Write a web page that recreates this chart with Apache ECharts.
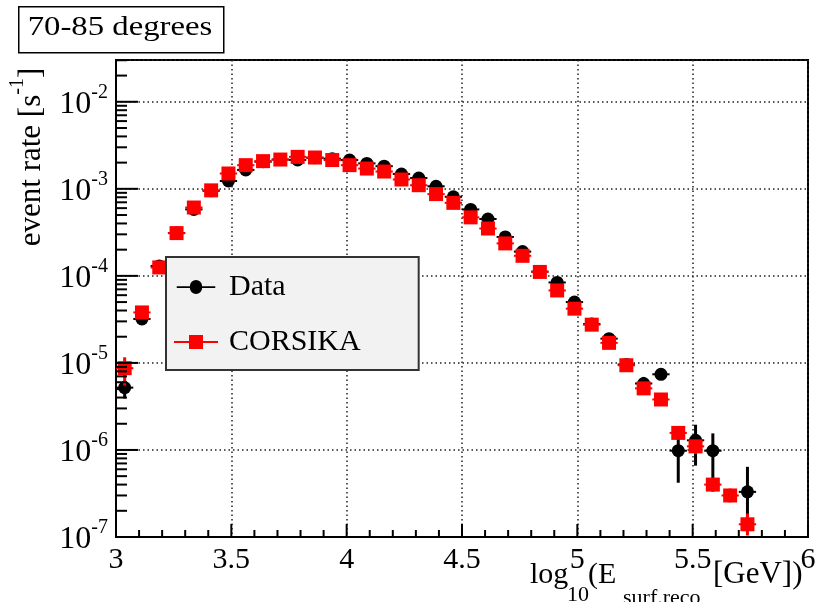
<!DOCTYPE html>
<html>
<head>
<meta charset="utf-8">
<title>70-85 degrees</title>
<script src="https://cdn.jsdelivr.net/npm/echarts@6/dist/echarts.min.js"></script>
<style>
  html, body { margin: 0; padding: 0; background: #fff; }
  #chart { width: 829px; height: 602px; }
</style>
</head>
<body>
<div id="chart"></div>
<script>
// bin centres, log10(E_surf.reco / GeV), bin width 0.075
var binCenters = [
  3.0375, 3.1125, 3.1875, 3.2625, 3.3375, 3.4125, 3.4875, 3.5625, 3.6375, 3.7125,
  3.7875, 3.8625, 3.9375, 4.0125, 4.0875, 4.1625, 4.2375, 4.3125, 4.3875, 4.4625,
  4.5375, 4.6125, 4.6875, 4.7625, 4.8375, 4.9125, 4.9875, 5.0625, 5.1375, 5.2125,
  5.2875, 5.3625, 5.4375, 5.5125, 5.5875, 5.6625, 5.7375
];
var binHalfWidth = 0.0375;

// event rate [1/s]
var dataRate = [
  5.2e-6, 3.2e-5, 1.3e-4, 3.1e-4, 5.8e-4, 9.5e-4, 1.23e-3, 1.65e-3, 2.05e-3, 2.17e-3,
  2.15e-3, 2.27e-3, 2.22e-3, 2.14e-3, 1.96e-3, 1.82e-3, 1.48e-3, 1.33e-3, 1.07e-3, 8.1e-4,
  5.8e-4, 4.5e-4, 2.8e-4, 1.9e-4, 1.12e-4, 8.4e-5, 5.0e-5, 2.8e-5, 1.9e-5, 9.6e-6,
  5.8e-6, 7.4e-6, 9.8e-7, 1.29e-6, 9.8e-7, null, 3.3e-7
];
var dataErrLow = [
  3.9e-6, 2.8e-5, null, null, null, null, null, null, null, null,
  null, null, null, null, null, null, null, null, null, null,
  null, null, null, null, null, null, null, null, 1.7e-5, 8.6e-6,
  4.8e-6, 6.6e-6, 4.2e-7, 6.6e-7, 4.2e-7, null, 1.2e-7
];
var dataErrHigh = [
  6.1e-6, 3.6e-5, null, null, null, null, null, null, null, null,
  null, null, null, null, null, null, null, null, null, null,
  null, null, null, null, null, null, null, null, 2.1e-5, 1.07e-5,
  6.9e-6, 8.3e-6, 1.6e-6, 1.95e-6, 1.55e-6, null, 6.4e-7
];

var corsikaRate = [
  8.7e-6, 3.8e-5, 1.25e-4, 3.1e-4, 6.1e-4, 9.6e-4, 1.5e-3, 1.87e-3, 2.08e-3, 2.17e-3,
  2.33e-3, 2.29e-3, 2.14e-3, 1.87e-3, 1.71e-3, 1.58e-3, 1.28e-3, 1.1e-3, 8.7e-4, 6.9e-4,
  4.7e-4, 3.5e-4, 2.36e-4, 1.7e-4, 1.11e-4, 6.8e-5, 4.2e-5, 2.75e-5, 1.7e-5, 9.4e-6,
  5.1e-6, 3.8e-6, 1.57e-6, 1.1e-6, 4.0e-7, 3.0e-7, 1.4e-7
];
var corsikaErrLow = [
  5.5e-6, 3.3e-5, null, null, null, null, null, null, null, null,
  null, null, null, null, null, null, null, null, null, null,
  null, null, null, null, null, null, null, null, null, null,
  null, null, 1.35e-6, 9e-7, 3.3e-7, 2.5e-7, 1.04e-7
];
var corsikaErrHigh = [
  1.16e-5, 4.3e-5, null, null, null, null, null, null, null, null,
  null, null, null, null, null, null, null, null, null, null,
  null, null, null, null, null, null, null, null, null, null,
  null, null, 1.8e-6, 1.3e-6, 4.8e-7, 3.6e-7, 1.86e-7
];

var xMin = 3, xMax = 6, xStep = 0.5;
var yMin = 1e-7, yMax = 0.0302;
var yDecades = [-7, -6, -5, -4, -3, -2];

var serif = 'Liberation Serif';

function seriesData(rate) {
  var out = [];
  binCenters.forEach(function (x, k) {
    if (rate[k] != null) out.push([x, rate[k], k]);
  });
  return out;
}

function pointRenderer(errLow, errHigh, color, marker) {
  return function (params, api) {
    var x = api.value(0), y = api.value(1), k = api.value(2);
    var c = api.coord([x, y]);
    var l = api.coord([x - binHalfWidth, y]);
    var r = api.coord([x + binHalfWidth, y]);
    var kids = [{
      type: 'line',
      shape: { x1: l[0], y1: c[1], x2: r[0], y2: c[1] },
      style: { stroke: color, lineWidth: 2 }
    }];
    if (errLow[k] != null) {
      var lo = api.coord([x, errLow[k]]), hi = api.coord([x, errHigh[k]]);
      kids.push({
        type: 'line',
        shape: { x1: c[0], y1: lo[1], x2: c[0], y2: hi[1] },
        style: { stroke: color, lineWidth: 3 }
      });
    }
    if (marker === 'circle') {
      kids.push({ type: 'circle', shape: { cx: c[0], cy: c[1], r: 6.5 }, style: { fill: color } });
    } else {
      kids.push({ type: 'rect', shape: { x: c[0] - 7, y: c[1] - 7, width: 14, height: 14 }, style: { fill: color } });
    }
    return { type: 'group', children: kids };
  };
}

var baseGraphic = [
  {
    type: 'rect', left: 18, top: 6, z: 10,
    shape: { width: 205, height: 46 },
    style: { fill: '#fff', stroke: '#000', lineWidth: 1.5 }
  },
  {
    type: 'text', x: 120, y: 28, scaleX: 1.17, z: 11,
    style: { text: '70-85 degrees', fontFamily: serif, fontSize: 28, fill: '#000', align: 'center', verticalAlign: 'middle' }
  },
  {
    type: 'text', x: 27.5, y: 157, rotation: Math.PI / 2, z: 11,
    style: {
      text: '{m|event rate [s}{s|-1}{m|]}{h|\u200b}',
      align: 'center', verticalAlign: 'middle',
      rich: {
        m: { fontFamily: serif, fontSize: 31, lineHeight: 31, verticalAlign: 'bottom', fill: '#000' },
        s: { fontFamily: serif, fontSize: 20, lineHeight: 24, verticalAlign: 'top', fill: '#000' },
        h: { fontSize: 1, lineHeight: 40 }
      }
    }
  },
  // x axis title: log10(E_surf.reco [GeV])
  { type: 'text', x: 530, y: 575, z: 11, style: { text: 'log', fontFamily: serif, fontSize: 30, fill: '#000', verticalAlign: 'middle' } },
  { type: 'text', x: 567, y: 595, z: 11, style: { text: '10', fontFamily: serif, fontSize: 22, fill: '#000', verticalAlign: 'middle' } },
  { type: 'text', x: 588, y: 575, z: 11, style: { text: '(E', fontFamily: serif, fontSize: 30, fill: '#000', verticalAlign: 'middle' } },
  { type: 'text', x: 623, y: 598, z: 11, style: { text: 'surf.reco', fontFamily: serif, fontSize: 22, fill: '#000', verticalAlign: 'middle' } },
  { type: 'text', x: 713, y: 575, z: 11, style: { text: '[GeV])', fontFamily: serif, fontSize: 31, fill: '#000', verticalAlign: 'middle' } }
];

var chart = echarts.init(document.getElementById('chart'), null, { renderer: 'canvas' });

var option = {
  animation: false,
  backgroundColor: '#fff',
  grid: {
    left: 116, right: 21, top: 60, bottom: 65,
    show: true, borderColor: '#000', borderWidth: 2, backgroundColor: 'transparent'
  },
  legend: {
    left: 166, top: 257,
    orient: 'vertical',
    data: [
      { name: 'Data', icon: 'path://M0,6H15A7,7 0 1 1 29,6H44V8H29A7,7 0 1 1 15,8H0Z' },
      { name: 'CORSIKA', icon: 'path://M0,6H15V0H29V6H44V8H29V14H15V8H0Z' }
    ],
    itemWidth: 44, itemHeight: 14, itemGap: 25,
    padding: [15, 58, 13, 8],
    backgroundColor: '#f2f2f2', borderColor: '#333', borderWidth: 2, borderRadius: 0,
    selectedMode: false,
    textStyle: { fontFamily: serif, fontSize: 30, lineHeight: 30, color: '#000', padding: [0, 0, 0, 6] }
  },
  xAxis: {
    type: 'value', min: xMin, max: xMax, interval: xStep,
    axisLine: { show: true, onZero: false, lineStyle: { color: '#000', width: 2 } },
    axisTick: { show: false },
    splitLine: { show: true, lineStyle: { color: '#222', width: 1.5, type: [1.5, 3] } },
    axisLabel: { fontFamily: serif, fontSize: 30, color: '#000', margin: 8 }
  },
  yAxis: {
    type: 'log', logBase: 10, min: yMin, max: yMax,
    axisLine: { show: true, lineStyle: { color: '#000', width: 2 } },
    axisTick: { show: false },
    splitLine: { show: true, lineStyle: { color: '#222', width: 1.5, type: [1.5, 3] } },
    axisLabel: {
      margin: 8,
      showMaxLabel: false,
      formatter: function (v) {
        var e = Math.log10(v), r = Math.round(e);
        if (Math.abs(e - r) > 1e-6) return '';
        return '{b|10}{s|' + r + '}{h|\u200b}';
      },
      rich: {
        b: { fontFamily: serif, fontSize: 32, lineHeight: 32, verticalAlign: 'bottom', color: '#000' },
        s: { fontFamily: serif, fontSize: 20, lineHeight: 20, verticalAlign: 'top', color: '#000' },
        h: { fontSize: 1, lineHeight: 38 }
      }
    }
  },
  graphic: baseGraphic,
  series: [
    {
      name: 'Data', type: 'custom',
      itemStyle: { color: '#000' },
      encode: { x: 0, y: 1 },
      data: seriesData(dataRate),
      renderItem: pointRenderer(dataErrLow, dataErrHigh, '#000', 'circle')
    },
    {
      name: 'CORSIKA', type: 'custom',
      itemStyle: { color: '#ff0000' },
      encode: { x: 0, y: 1 },
      data: seriesData(corsikaRate),
      renderItem: pointRenderer(corsikaErrLow, corsikaErrHigh, '#ff0000', 'square')
    }
  ]
};

chart.setOption(option);

// ROOT-style inside ticks, placed through the chart's own axis scales
function toPx(x, y) {
  return chart.convertToPixel({ xAxisIndex: 0, yAxisIndex: 0 }, [x, y]);
}
function tickLine(x1, y1, x2, y2) {
  return { type: 'line', z: 12, silent: true, shape: { x1: x1, y1: y1, x2: x2, y2: y2 }, style: { stroke: '#000', lineWidth: 2 } };
}

var ticks = [];
for (var i = 30; i <= 60; i++) {
  var p = toPx(i / 10, yMin);
  var len = (i % 5 === 0) ? 13 : 7;
  ticks.push(tickLine(p[0], p[1], p[0], p[1] - len));
}
yDecades.forEach(function (e) {
  for (var m = 1; m <= 9; m++) {
    var v = m * Math.pow(10, e);
    if (v > yMax) break;
    var q = toPx(xMin, v);
    ticks.push(tickLine(q[0], q[1], q[0] + (m === 1 ? 22 : 11), q[1]));
  }
});

chart.setOption({ graphic: baseGraphic.concat(ticks) });
</script>
</body>
</html>
